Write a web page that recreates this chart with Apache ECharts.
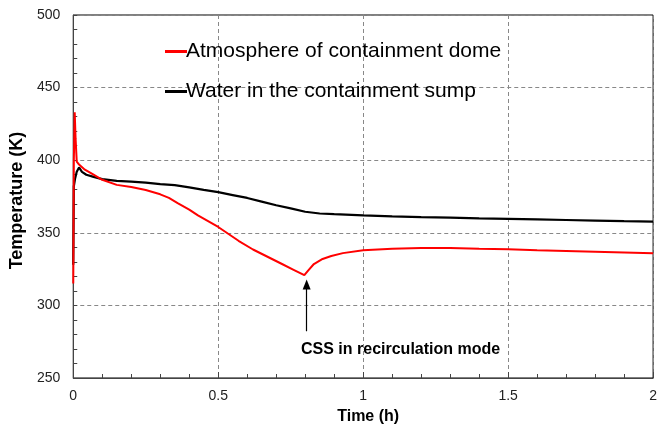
<!DOCTYPE html>
<html>
<head>
<meta charset="utf-8">
<script src="https://cdn.jsdelivr.net/npm/echarts@6/dist/echarts.min.js"></script>
<style>html,body{margin:0;padding:0;background:#fff;}#c{width:660px;height:430px;}</style>
</head>
<body>
<div id="c"></div>
<script>
// Atmosphere of containment dome (red)
const atmTime = [0, 0.002, 0.005, 0.008, 0.012, 0.02, 0.04, 0.07, 0.1, 0.15, 0.2, 0.25, 0.3, 0.33, 0.36, 0.4, 0.43, 0.5, 0.57, 0.62, 0.67, 0.72, 0.76, 0.797, 0.81, 0.83, 0.86, 0.89, 0.93, 1.0, 1.1, 1.2, 1.3, 1.4, 1.5, 1.6, 1.7, 1.8, 1.9, 2.0];
const atmTemp = [315, 400, 433, 415, 399, 397, 393.5, 390, 386.5, 383, 381.5, 379.5, 376.5, 374, 370.5, 366, 362, 354, 344.5, 338.5, 333.5, 328.5, 324.5, 320.8, 324, 328.5, 332, 334, 336, 338, 339, 339.5, 339.5, 339, 338.6, 338, 337.5, 337, 336.5, 336];
// Water in the containment sump (black)
const sumpTime = [0, 0.002, 0.006, 0.012, 0.02, 0.03, 0.045, 0.07, 0.1, 0.15, 0.2, 0.25, 0.3, 0.35, 0.4, 0.45, 0.5, 0.55, 0.6, 0.65, 0.7, 0.75, 0.8, 0.85, 0.9, 1.0, 1.1, 1.2, 1.3, 1.4, 1.5, 1.6, 1.7, 1.8, 1.9, 2.0];
const sumpTemp = [328, 382, 387, 392, 395, 392, 390, 388.5, 387, 385.8, 385.3, 384.5, 383.5, 382.8, 381.3, 379.6, 378, 376, 374, 371.5, 369, 366.8, 364.5, 363.3, 362.8, 362, 361.3, 360.8, 360.5, 360, 359.6, 359.2, 358.8, 358.4, 358, 357.7];
const seriesNames = ['Atmosphere of containment dome', 'Water in the containment sump'];
const annotationText = 'CSS in recirculation mode';
const arrowX = 0.805, arrowFrom = 282.2, arrowTo = 314.4;

const zip = (a, b) => a.map((v, i) => [v, b[i]]);
const FONT = 'Liberation Sans';
const chart = echarts.init(document.getElementById('c'), null, {renderer: 'canvas'});
chart.setOption({
  animation: false,
  backgroundColor: '#fff',
  textStyle: {fontFamily: FONT},
  grid: {left: 73, right: 2, top: 15, bottom: 50, show: true, borderColor: '#000', borderWidth: 1, backgroundColor: 'transparent'},
  legend: {
    orient: 'vertical', left: 160, top: 36, itemGap: 19,
    itemWidth: 22, itemHeight: 3, icon: 'rect',
    textStyle: {fontSize: 21, color: '#000', fontFamily: FONT, padding: [0, 0, 0, -6]},
    data: seriesNames
  },
  title: {
    text: annotationText, left: 296, top: 337,
    textStyle: {fontSize: 16, fontWeight: 'bold', color: '#000', fontFamily: FONT}
  },
  xAxis: {
    type: 'value', min: 0, max: 2, interval: 0.5,
    name: 'Time (h)', nameLocation: 'middle', nameGap: 31,
    nameTextStyle: {fontSize: 16, fontWeight: 'bold', color: '#000', padding: [0, 0, 0, 10]},
    axisLine: {lineStyle: {color: '#444', width: 1}},
    axisTick: {show: true, inside: true, length: 6, lineStyle: {color: '#444'}},
    minorTick: {show: true, splitNumber: 5, length: 4, lineStyle: {color: '#444'}},
    axisLabel: {fontSize: 14, color: '#222', margin: 11, formatter: v => String(v)},
    splitLine: {show: true, lineStyle: {color: '#888', type: [4, 3], width: 1}}
  },
  yAxis: {
    type: 'value', min: 250, max: 500, interval: 50,
    name: 'Temperature (K)', nameLocation: 'middle', nameGap: 46,
    nameTextStyle: {fontSize: 18, fontWeight: 'bold', color: '#000', padding: [0, 8, 0, 0]},
    axisLine: {show: true, lineStyle: {color: '#444', width: 1}},
    axisTick: {show: true, inside: true, length: 4, lineStyle: {color: '#444'}},
    minorTick: {show: true, splitNumber: 5, length: 4, lineStyle: {color: '#444'}},
    axisLabel: {fontSize: 14, color: '#222', margin: 13},
    splitLine: {show: true, lineStyle: {color: '#888', type: [4, 3], width: 1}}
  },
  series: [
    {
      name: seriesNames[0], type: 'line', data: zip(atmTime, atmTemp),
      showSymbol: false, symbol: 'none', smooth: false,
      lineStyle: {color: '#ff0000', width: 2}, itemStyle: {color: '#ff0000'}, z: 3,
      markLine: {
        silent: true, symbol: ['none', 'triangle'], symbolSize: [8, 10],
        lineStyle: {color: '#000', width: 1.2, type: 'solid'},
        label: {show: false},
        data: [[{coord: [arrowX, arrowFrom]}, {coord: [arrowX, arrowTo]}]]
      }
    },
    {
      name: seriesNames[1], type: 'line', data: zip(sumpTime, sumpTemp),
      showSymbol: false, symbol: 'none', smooth: false,
      lineStyle: {color: '#000', width: 2.2}, itemStyle: {color: '#000'}, z: 2
    }
  ]
});
</script>
</body>
</html>
